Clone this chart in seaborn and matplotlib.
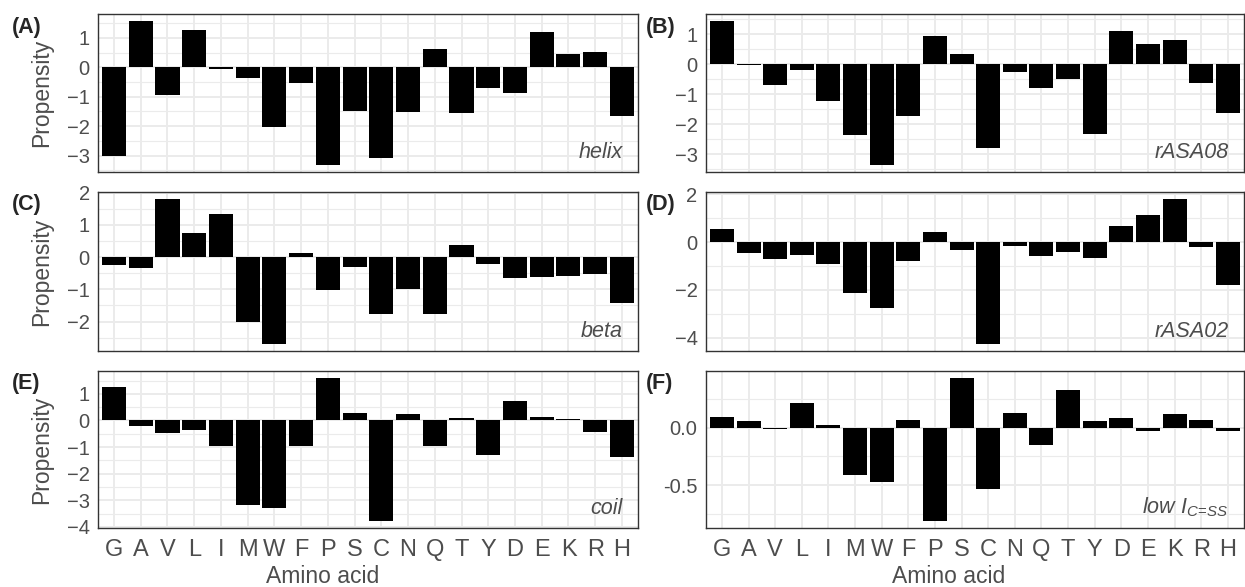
import matplotlib
matplotlib.use("Agg")
import matplotlib.pyplot as plt
from matplotlib.ticker import MultipleLocator, FormatStrFormatter
import seaborn as sns
import pandas as pd

# amino acids in plotting order
amino_acids = ["G", "A", "V", "L", "I", "M", "W", "F", "P", "S",
               "C", "N", "Q", "T", "Y", "D", "E", "K", "R", "H"]

# propensity values
helix = [-3.00, 1.56, -0.93, 1.26, -0.07, -0.36, -2.03, -0.52, -3.31, -1.48,
         -3.08, -1.52, 0.62, -1.54, -0.71, -0.89, 1.18, 0.46, 0.53, -1.65]
rasa08 = [1.43, -0.02, -0.68, -0.19, -1.22, -2.36, -3.35, -1.71, 0.93, 0.33,
          -2.79, -0.27, -0.80, -0.48, -2.32, 1.12, 0.66, 0.80, -0.62, -1.62]
beta = [-0.25, -0.34, 1.80, 0.76, 1.35, -2.02, -2.69, 0.12, -1.02, -0.31,
        -1.77, -1.00, -1.76, 0.37, -0.21, -0.65, -0.63, -0.57, -0.51, -1.42]
rasa02 = [0.56, -0.44, -0.72, -0.56, -0.93, -2.13, -2.74, -0.79, 0.40, -0.33,
          -4.25, -0.17, -0.58, -0.40, -0.68, 0.69, 1.15, 1.79, -0.19, -1.79]
coil = [1.27, -0.22, -0.47, -0.35, -0.94, -3.16, -3.27, -0.96, 1.59, 0.27,
        -3.77, 0.25, -0.96, 0.10, -1.30, 0.74, 0.12, 0.05, -0.42, -1.38]
low_ics = [0.09, 0.06, -0.01, 0.21, 0.025, -0.41, -0.47, 0.07, -0.81, 0.43,
           -0.53, 0.13, -0.15, 0.33, 0.06, 0.08, -0.03, 0.12, 0.07, -0.03]

panel_tags = ["(A)", "(B)", "(C)", "(D)", "(E)", "(F)"]
panel_names = ["helix", "rASA08", "beta", "rASA02", "coil", r"low $I_{C\!=\!SS}$"]
panel_values = [helix, rasa08, beta, rasa02, coil, low_ics]
tick_steps = [1, 1, 1, 2, 1, 0.5]

sns.set_style("white")
plt.rcParams["font.family"] = ["Liberation Sans", "DejaVu Sans"]
plt.rcParams["mathtext.fontset"] = "custom"
plt.rcParams["mathtext.it"] = "Liberation Sans:italic"
plt.rcParams["mathtext.rm"] = "Liberation Sans"

fig = plt.figure(figsize=(12.45, 5.87), dpi=100)

lefts = [0.0787, 0.567]
widths = [0.4337, 0.4321]
bottoms = [0.707, 0.402, 0.1005]
heights = [0.269, 0.271, 0.2675]
tag_x = [0.0097, 0.519]
xlab_x = [0.259, 0.762]

grey20 = "#333333"
grey30 = "#4D4D4D"

for i in range(6):
    row, col = i // 2, i % 2
    ax = fig.add_axes([lefts[col], bottoms[row], widths[col], heights[row]])
    df = pd.DataFrame({"aa": amino_acids, "value": panel_values[i]})
    sns.barplot(data=df, x="aa", y="value", order=amino_acids, color="black",
                saturation=1, width=0.9, linewidth=0, ax=ax, zorder=2)

    vals = panel_values[i]
    lo, hi = min(min(vals), 0), max(max(vals), 0)
    pad = (hi - lo) * 0.05
    ax.set_ylim(lo - pad, hi + pad)
    ax.set_xlim(-0.6, 19.6)

    step = tick_steps[i]
    ax.yaxis.set_major_locator(MultipleLocator(step))
    ax.yaxis.set_minor_locator(MultipleLocator(step / 2))
    if step < 1:
        ax.yaxis.set_major_formatter(FormatStrFormatter("%.1f"))

    ax.set_axisbelow(True)
    ax.grid(which="major", color="#EBEBEB", linewidth=1.4)
    ax.grid(which="minor", axis="y", color="#EBEBEB", linewidth=0.8)
    for s in ax.spines.values():
        s.set_color(grey20)
        s.set_linewidth(1.0)
    ax.tick_params(axis="both", which="major", direction="out", length=4,
                   width=1.1, color=grey20, labelcolor=grey30)
    ax.tick_params(axis="y", which="minor", length=0)
    ax.tick_params(axis="y", labelsize=14.5, pad=2)
    ax.tick_params(axis="x", labelsize=17, pad=4)

    ax.set_xlabel("")
    if row < 2:
        ax.set_xticklabels([])
    else:
        fig.text(xlab_x[col], 0.018, "Amino acid", fontsize=16.5,
                 color=grey30, ha="center", va="center")
    if col == 0:
        ax.set_ylabel("Propensity", fontsize=16.5, color=grey30, labelpad=10)
    else:
        ax.set_ylabel("")

    ax.text(0.972, 0.09, panel_names[i], transform=ax.transAxes, ha="right",
            va="baseline", fontsize=15.5, style="italic", color=grey30)
    fig.text(tag_x[col], bottoms[row] + heights[row] - 0.022, panel_tags[i],
             fontsize=15.5, fontweight="bold", ha="left", va="center")

fig.savefig("out.png", dpi=100)
